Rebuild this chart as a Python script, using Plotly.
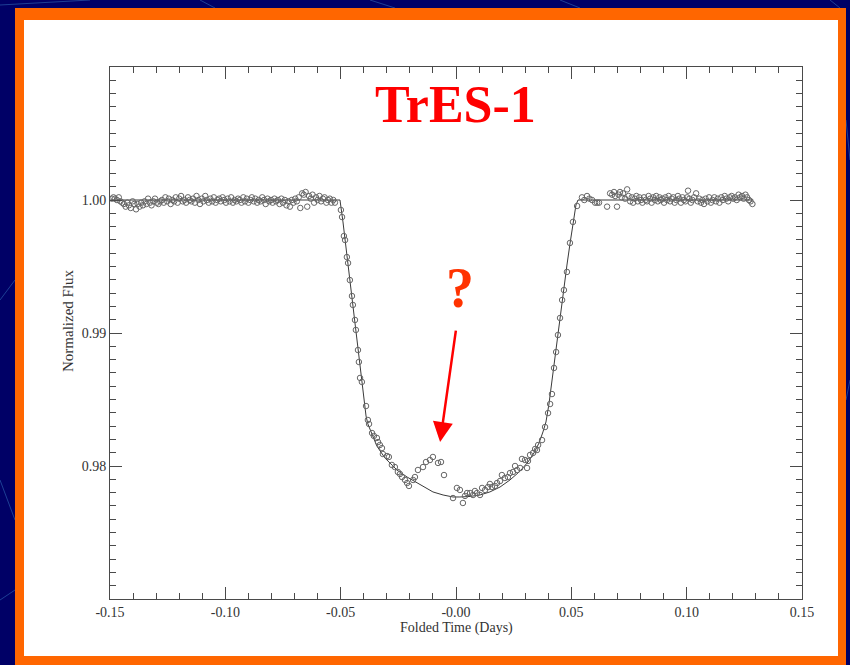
import plotly.graph_objects as go

# ---------------- data ----------------
pre_time = [-0.1492, -0.1485, -0.1478, -0.1470, -0.1462, -0.1455, -0.1447, -0.1440, -0.1432, -0.1425,
            -0.1418, -0.1410, -0.1402, -0.1395, -0.1387, -0.1380, -0.1372, -0.1365, -0.1357, -0.1350,
            -0.1342, -0.1335, -0.1327, -0.1320, -0.1312, -0.1305, -0.1297, -0.1290, -0.1282, -0.1275,
            -0.1267, -0.1260, -0.1252, -0.1245, -0.1237, -0.1230, -0.1222, -0.1215, -0.1207, -0.1200,
            -0.1192, -0.1185, -0.1177, -0.1170, -0.1162, -0.1155, -0.1147, -0.1140, -0.1132, -0.1125,
            -0.1117, -0.1110, -0.1102, -0.1095, -0.1087, -0.1080, -0.1072, -0.1065, -0.1057, -0.1050,
            -0.1042, -0.1035, -0.1027, -0.1020, -0.1012, -0.1005, -0.0997, -0.0990, -0.0982, -0.0975,
            -0.0967, -0.0960, -0.0952, -0.0945, -0.0937, -0.0930, -0.0922, -0.0915, -0.0907, -0.0900,
            -0.0892, -0.0885, -0.0877, -0.0870, -0.0862, -0.0855, -0.0847, -0.0840, -0.0832, -0.0825,
            -0.0817, -0.0810, -0.0802, -0.0795, -0.0787, -0.0780, -0.0772, -0.0765, -0.0757, -0.0750,
            -0.0742, -0.0735, -0.0727, -0.0720, -0.0712, -0.0705, -0.0697, -0.0690, -0.0682, -0.0675,
            -0.0667, -0.0660, -0.0652, -0.0645, -0.0637, -0.0630, -0.0622, -0.0615, -0.0607, -0.0600,
            -0.0592, -0.0585, -0.0577, -0.0570, -0.0562, -0.0555, -0.0547, -0.0540, -0.0532, -0.0525]
pre_flux = [1.0001, 1.0002, 1.0001, 1.0000, 1.0002, 0.9999, 0.9998, 0.9997, 0.9995, 0.9998,
            0.9996, 0.9994, 0.9999, 0.9997, 0.9993, 0.9997, 0.9995, 0.9998, 0.9996, 0.9999,
            0.9997, 1.0001, 0.9998, 0.9996, 0.9999, 1.0001, 0.9998, 0.9997, 0.9999, 1.0000,
            0.9998, 1.0002, 0.9999, 1.0001, 0.9997, 1.0000, 0.9999, 1.0002, 0.9998, 1.0001,
            1.0003, 0.9999, 1.0000, 0.9998, 1.0002, 1.0000, 0.9999, 1.0001, 0.9998, 1.0003,
            1.0000, 0.9997, 1.0001, 0.9999, 1.0003, 1.0000, 0.9998, 1.0001, 0.9999, 1.0002,
            0.9998, 1.0000, 1.0001, 0.9999, 1.0002, 1.0000, 0.9998, 1.0001, 0.9999, 1.0002,
            0.9998, 1.0000, 0.9999, 1.0001, 1.0000, 0.9998, 1.0002, 0.9999, 1.0001, 0.9998,
            1.0000, 1.0002, 0.9999, 1.0001, 0.9998, 1.0000, 0.9999, 1.0002, 1.0000, 0.9997,
            1.0001, 0.9999, 1.0000, 0.9998, 1.0001, 0.9999, 1.0000, 0.9997, 1.0001, 0.9998,
            1.0000, 0.9996, 0.9999, 0.9995, 1.0000, 0.9998, 1.0001, 0.9999, 1.0002, 0.9994,
            1.0005, 1.0004, 1.0006, 0.9995, 1.0003, 1.0001, 1.0004, 0.9998, 1.0002, 1.0000,
            1.0003, 0.9999, 1.0001, 1.0002, 0.9998, 1.0000, 1.0001, 0.9998, 1.0000, 0.9998]

transit_time = [-0.0499, -0.0494, -0.0486, -0.0481, -0.0473, -0.0468, -0.0460, -0.0451, -0.0447, -0.0438,
                -0.0434, -0.0425, -0.0421, -0.0416, -0.0408, -0.0390, -0.0382, -0.0377, -0.0364, -0.0356,
                -0.0343, -0.0338, -0.0330, -0.0321, -0.0317, -0.0299, -0.0291, -0.0278, -0.0265, -0.0252,
                -0.0243, -0.0234, -0.0221, -0.0212, -0.0204,
                -0.0186, -0.0178, -0.0165, -0.0143, -0.0130, -0.0113, -0.0100, -0.0078, -0.0065, -0.0052,
                -0.0013, 0.0004, 0.0017, 0.0030, 0.0039, 0.0048, 0.0061, 0.0074, 0.0082, 0.0091,
                0.0104, 0.0113, 0.0126, 0.0139, 0.0147, 0.0156, 0.0169, 0.0178, 0.0191, 0.0199,
                0.0212, 0.0225, 0.0234, 0.0247, 0.0256, 0.0265, 0.0278, 0.0286, 0.0299, 0.0308,
                0.0312, 0.0321, 0.0334, 0.0343, 0.0351, 0.0356, 0.0373, 0.0386,
                0.0399, 0.0408, 0.0416, 0.0425, 0.0434, 0.0442, 0.0451, 0.0460, 0.0468, 0.0481,
                0.0494, 0.0507, 0.0525]
transit_flux = [0.99925, 0.99872, 0.99729, 0.99699, 0.99571, 0.99526, 0.99398, 0.99278, 0.99211, 0.99098,
                0.99023, 0.98872, 0.98782, 0.98662, 0.98632, 0.98451, 0.98346, 0.98316, 0.98248, 0.98226,
                0.98211, 0.98180, 0.98158, 0.98135, 0.98090, 0.98075, 0.98068, 0.98008, 0.97992, 0.97955,
                0.97940, 0.97917, 0.97895, 0.97872, 0.97850,
                0.97895, 0.97917, 0.97970, 0.97992, 0.98030, 0.98045, 0.98068, 0.98023, 0.98030, 0.97932,
                0.97759, 0.97835, 0.97820, 0.97722, 0.97775, 0.97797, 0.97797, 0.97782, 0.97812, 0.97797,
                0.97782, 0.97835, 0.97820, 0.97842, 0.97865, 0.97842, 0.97850, 0.97872, 0.97887, 0.97932,
                0.97910, 0.97917, 0.97947, 0.97955, 0.98000, 0.97970, 0.97985, 0.98053, 0.98045, 0.97985,
                0.98038, 0.98083, 0.98098, 0.98128, 0.98120, 0.98158, 0.98195, 0.98293,
                0.98398, 0.98466, 0.98541, 0.98737, 0.98857, 0.98985, 0.99113, 0.99248, 0.99323, 0.99459,
                0.99677, 0.99835, 0.99955]

post_time = [0.0546, 0.0556, 0.0568, 0.0578, 0.0590, 0.0603, 0.0612, 0.0620, 0.0655, 0.0668,
             0.0677, 0.0685, 0.0690, 0.0698, 0.0705, 0.0711, 0.0718, 0.0724, 0.0733, 0.0742,
             0.0748, 0.0755, 0.0762, 0.0768, 0.0775, 0.0782, 0.0788, 0.0795, 0.0802, 0.0808,
             0.0815, 0.0822, 0.0828, 0.0835, 0.0842, 0.0848, 0.0855, 0.0862, 0.0868, 0.0875,
             0.0882, 0.0888, 0.0895, 0.0902, 0.0908, 0.0915, 0.0922, 0.0928, 0.0935, 0.0942,
             0.0948, 0.0955, 0.0962, 0.0968, 0.0975, 0.0982, 0.0988, 0.0995, 0.1002, 0.1006,
             0.1012, 0.1018, 0.1025, 0.1032, 0.1041, 0.1048, 0.1055, 0.1062, 0.1068, 0.1075,
             0.1082, 0.1090, 0.1097, 0.1105, 0.1112, 0.1120, 0.1127, 0.1135, 0.1142, 0.1150,
             0.1157, 0.1165, 0.1172, 0.1180, 0.1187, 0.1195, 0.1202, 0.1210, 0.1217, 0.1225,
             0.1232, 0.1240, 0.1247, 0.1255, 0.1262, 0.1270, 0.1277, 0.1285]
post_flux = [1.0002, 1.0000, 1.0003, 1.0001, 1.0000, 0.9998, 0.9998, 0.9998, 0.9995, 1.0005,
             1.0004, 1.0006, 1.0003, 0.9995, 1.0004, 1.0006, 1.0002, 1.0005, 1.0001, 1.0008,
             1.0003, 0.9999, 1.0002, 0.9998, 1.0001, 1.0003, 0.9999, 1.0002, 1.0000, 0.9998,
             1.0002, 1.0000, 0.9999, 1.0003, 1.0001, 0.9998, 1.0002, 1.0000, 1.0003, 0.9999,
             1.0002, 1.0000, 1.0001, 0.9998, 1.0002, 1.0000, 1.0003, 0.9999, 1.0001, 1.0002,
             0.9998, 1.0000, 1.0003, 1.0001, 0.9998, 1.0002, 1.0000, 0.9999, 1.0002, 1.0007,
             1.0001, 0.9998, 1.0000, 1.0002, 1.0005, 0.9999, 1.0001, 0.9998, 1.0000, 0.9997,
             1.0001, 0.9999, 1.0002, 0.9998, 1.0000, 1.0002, 0.9999, 1.0001, 0.9998, 1.0002,
             1.0000, 1.0003, 1.0001, 0.9999, 1.0002, 1.0003, 1.0001, 1.0002, 1.0000, 1.0004,
             1.0002, 1.0003, 1.0001, 1.0004, 1.0002, 1.0000, 0.9999, 0.9997]

model_time = [-0.1500, -0.0503, -0.0490, -0.0477, -0.0464, -0.0451, -0.0438, -0.0425, -0.0412, -0.0399,
              -0.0390, -0.0382, -0.0364, -0.0343, -0.0308, -0.0256, -0.0212, -0.0169, -0.0134, -0.0100,
              -0.0056, -0.0013, 0.0017, 0.0061, 0.0104, 0.0147, 0.0191, 0.0234, 0.0278, 0.0312,
              0.0338, 0.0360, 0.0377, 0.0390, 0.0403, 0.0416, 0.0429, 0.0442, 0.0455, 0.0468,
              0.0481, 0.0494, 0.0507, 0.0520, 0.0529, 0.1288]
model_flux = [1.0000, 1.0000, 0.99835, 0.99639, 0.99444, 0.99248, 0.99053, 0.98857, 0.98662, 0.98466,
              0.98376, 0.98316, 0.98233, 0.98150, 0.98060, 0.97970, 0.97917, 0.97872, 0.97835, 0.97805,
              0.97782, 0.97767, 0.97767, 0.97771, 0.97782, 0.97805, 0.97842, 0.97895, 0.97962, 0.98030,
              0.98098, 0.98173, 0.98256, 0.98331, 0.98466, 0.98647, 0.98820, 0.99000, 0.99173, 0.99346,
              0.99511, 0.99669, 0.99827, 0.99962, 1.0000, 1.0000]

x_tickvals = [-0.15, -0.10, -0.05, 0.0, 0.05, 0.10, 0.15]
x_ticktext = ["-0.15", "-0.10", "-0.05", "-0.00", "0.05", "0.10", "0.15"]
y_tickvals = [0.98, 0.99, 1.00]
y_ticktext = ["0.98", "0.99", "1.00"]

title_text = "TrES-1"
x_title = "Folded Time (Days)"
y_title = "Normalized Flux"

# ---------------- figure ----------------
W, H = 850, 665
L, R, T, B = 110, 48, 67, 66
pw, ph = W - L - R, H - T - B

def px(x):
    return (x - L) / pw

def py(y):
    return (H - B - y) / ph

SERIF = "Liberation Serif, Times New Roman, serif"
AX = "#4a4a4a"

fig = go.Figure()
fig.add_trace(go.Scatter(x=model_time, y=model_flux, mode="lines",
                         line=dict(color="#3a3a3a", width=1), hoverinfo="skip", showlegend=False))
all_time = pre_time + transit_time + post_time
all_flux = pre_flux + transit_flux + post_flux
fig.add_trace(go.Scatter(x=all_time, y=all_flux, mode="markers",
                         marker=dict(symbol="circle-open", size=5.5, color="#666666", line=dict(width=1)),
                         showlegend=False))

shapes = []
bg_lines = [(0, 5, 90, 0), (200, 0, 215, 8), (370, 0, 395, 8), (560, 0, 580, 8), (840, 8, 830, 0),
            (1020, 0, 1030, 8), (0, 300, 15, 280), (0, 480, 15, 520), (846, 120, 850, 160),
            (846, 400, 850, 380), (0, 600, 15, 590)]
for x0, y0, x1, y1 in bg_lines:
    shapes.append(dict(type="line", xref="paper", yref="paper", x0=px(x0), y0=py(y0), x1=px(x1), y1=py(y1),
                       line=dict(color="#1d3f95", width=1), layer="below"))
shapes.append(dict(type="rect", xref="paper", yref="paper", x0=px(15), x1=px(846), y0=py(8), y1=py(666),
                   fillcolor="#ff6600", line=dict(width=0), layer="below"))
shapes.append(dict(type="rect", xref="paper", yref="paper", x0=px(24), x1=px(838), y0=py(20), y1=py(656),
                   fillcolor="#ffffff", line=dict(width=0), layer="below"))

annotations = [
    dict(text="<b>" + title_text + "</b>", xref="paper", yref="paper", x=px(455), y=py(105),
         showarrow=False, font=dict(family=SERIF, size=52, color="#ff0000"), xanchor="center", yanchor="middle"),
    dict(text="<b>?</b>", xref="paper", yref="paper", x=px(460), y=py(288),
         showarrow=False, font=dict(family=SERIF, size=56, color="#ff3300"), xanchor="center", yanchor="middle"),
    dict(text="", x=-0.0069, y=0.9818, xref="x", yref="y", ax=16, ay=-113, showarrow=True,
         arrowhead=2, arrowsize=1.6, arrowwidth=2.5, arrowcolor="#ff0000", standoff=0),
    dict(text=x_title, xref="paper", yref="paper", x=px(457), y=py(628), showarrow=False,
         font=dict(family=SERIF, size=14, color="#333333"), xanchor="center", yanchor="middle"),
    dict(text=y_title, xref="paper", yref="paper", x=px(68), y=py(321), showarrow=False, textangle=-90,
         font=dict(family=SERIF, size=15, color="#333333"), xanchor="center", yanchor="middle"),
]

fig.update_layout(
    width=W, height=H, margin=dict(l=L, r=R, t=T, b=B, autoexpand=False),
    paper_bgcolor="#000066", plot_bgcolor="#ffffff",
    shapes=shapes, annotations=annotations, showlegend=False,
)
fig.update_xaxes(range=[-0.15, 0.15], tickmode="array", tickvals=x_tickvals, ticktext=x_ticktext,
                 ticks="inside", ticklen=12, tickwidth=1, tickcolor=AX,
                 minor=dict(tick0=0, dtick=0.01, ticks="inside", ticklen=6, tickcolor=AX, tickwidth=1),
                 showline=True, linecolor=AX, linewidth=1, mirror="ticks", showgrid=False, zeroline=False,
                 tickfont=dict(family=SERIF, size=14, color="#333333"))
fig.update_yaxes(range=[0.97, 1.01], tickmode="array", tickvals=y_tickvals, ticktext=y_ticktext,
                 ticks="inside", ticklen=12, tickwidth=1, tickcolor=AX,
                 minor=dict(tick0=0.97, dtick=0.001, ticks="inside", ticklen=6, tickcolor=AX, tickwidth=1),
                 showline=True, linecolor=AX, linewidth=1, mirror="ticks", showgrid=False, zeroline=False,
                 tickfont=dict(family=SERIF, size=14, color="#333333"))

fig.write_html("out.html", config={"displayModeBar": False},
               post_script="document.body.style.margin='0';document.body.style.overflow='hidden';")
